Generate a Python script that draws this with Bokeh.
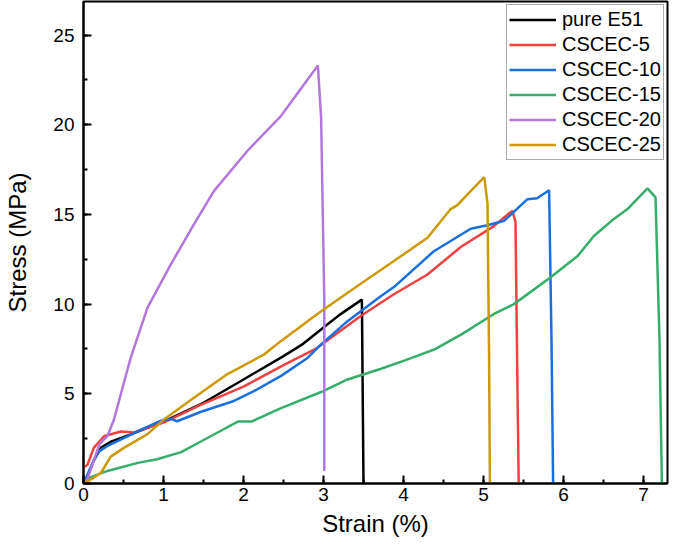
from bokeh.plotting import figure
from bokeh.models import SingleIntervalTicker, Legend, LegendItem
from bokeh.embed import file_html
from bokeh.resources import INLINE

# ---- data ----
e51_x = [0, 0.05, 0.13, 0.22, 0.35, 0.6, 1.0, 1.5, 2.0, 2.5, 2.75, 3.0, 3.2, 3.48, 3.49, 3.5]
e51_y = [0, 0.4, 1.3, 2.0, 2.35, 2.75, 3.45, 4.5, 5.8, 7.1, 7.8, 8.7, 9.4, 10.25, 5.0, 0]

c5_x = [0, 0.05, 0.13, 0.26, 0.47, 0.63, 1.0, 1.45, 2.0, 2.5, 2.9, 3.47, 3.88, 4.3, 4.72, 5.13, 5.36, 5.40, 5.42, 5.44]
c5_y = [0.9, 1.05, 2.0, 2.65, 2.9, 2.85, 3.4, 4.35, 5.4, 6.6, 7.5, 9.35, 10.55, 11.65, 13.2, 14.35, 15.2, 14.6, 7.0, 0]

c10_x = [0, 0.09, 0.18, 0.3, 0.51, 0.72, 0.97, 1.09, 1.17, 1.47, 1.88, 2.13, 2.47, 2.8, 2.97, 3.3, 3.72, 3.88, 4.38, 4.84, 5.05, 5.26, 5.55, 5.67, 5.82, 5.85, 5.87]
c10_y = [0, 0.9, 1.75, 2.1, 2.55, 3.0, 3.5, 3.6, 3.47, 4.0, 4.6, 5.15, 6.0, 7.0, 7.75, 9.05, 10.45, 10.95, 12.95, 14.2, 14.4, 14.65, 15.85, 15.9, 16.35, 8.0, 0]

c15_x = [0, 0.09, 0.3, 0.68, 0.92, 1.22, 1.45, 1.7, 1.93, 2.1, 2.47, 2.97, 3.3, 3.72, 4.01, 4.4, 4.72, 5.13, 5.38, 5.84, 6.18, 6.38, 6.63, 6.8, 7.05, 7.15, 7.2, 7.23]
c15_y = [0, 0.35, 0.7, 1.15, 1.35, 1.75, 2.3, 2.9, 3.45, 3.45, 4.2, 5.1, 5.8, 6.4, 6.85, 7.5, 8.3, 9.45, 10.0, 11.5, 12.7, 13.8, 14.75, 15.3, 16.45, 15.95, 8.0, 0]

c20_x = [0.03, 0.13, 0.2, 0.3, 0.38, 0.51, 0.59, 0.8, 1.09, 1.38, 1.63, 2.05, 2.47, 2.93, 2.97, 3.01, 3.01]
c20_y = [0, 1.3, 2.2, 2.65, 3.55, 5.7, 7.0, 9.8, 12.2, 14.45, 16.3, 18.55, 20.5, 23.3, 20.4, 10.2, 0.7]

c25_x = [0, 0.13, 0.22, 0.34, 0.51, 0.8, 1.0, 1.42, 1.8, 2.26, 2.47, 2.97, 3.42, 3.88, 4.3, 4.59, 4.67, 4.84, 5.01, 5.05, 5.07, 5.08]
c25_y = [0, 0.33, 0.6, 1.5, 2.0, 2.75, 3.55, 4.9, 6.1, 7.2, 7.95, 9.6, 11.0, 12.4, 13.7, 15.3, 15.5, 16.3, 17.08, 15.6, 7.0, 0]

names = ["pure E51", "CSCEC-5", "CSCEC-10", "CSCEC-15", "CSCEC-20", "CSCEC-25"]
colors = ["#000000", "#F14040", "#1A6FDF", "#37AD6B", "#B177DE", "#CC9900"]
xs = [e51_x, c5_x, c10_x, c15_x, c20_x, c25_x]
ys = [e51_y, c5_y, c10_y, c15_y, c20_y, c25_y]

FONT = "Liberation Sans"

p = figure(width=669, height=540, x_range=(0, 7.3), y_range=(0, 26.87),
           output_backend="svg", toolbar_location=None,
           min_border_left=83, min_border_right=2, min_border_top=1, min_border_bottom=57,
           x_axis_label="Strain (%)", y_axis_label="Stress (MPa)")

p.xgrid.visible = False
p.ygrid.visible = False
p.outline_line_color = "black"
p.outline_line_width = 2
p.outline_line_alpha = 1

p.xaxis.ticker = SingleIntervalTicker(interval=1, num_minor_ticks=2)
p.yaxis.ticker = SingleIntervalTicker(interval=5, num_minor_ticks=2)

for ax in (p.xaxis, p.yaxis):
    ax.axis_line_width = 2
    ax.axis_line_color = "black"
    ax.major_tick_line_width = 2
    ax.minor_tick_line_width = 2
    ax.major_tick_in = 8
    ax.major_tick_out = 0
    ax.minor_tick_in = 4
    ax.minor_tick_out = 0
    ax.major_label_text_font = FONT
    ax.major_label_text_font_size = "19px"
    ax.major_label_text_color = "black"
    ax.axis_label_text_font = FONT
    ax.axis_label_text_font_size = "24px"
    ax.axis_label_text_font_style = "normal"
    ax.axis_label_text_color = "black"

p.xaxis.major_label_standoff = 4
p.yaxis.major_label_standoff = 9
p.xaxis.axis_label_standoff = 6
p.yaxis.axis_label_standoff = 19

items = []
for n, c, x, y in zip(names, colors, xs, ys):
    r = p.line(x, y, line_color=c, line_width=2.5)
    items.append(LegendItem(label=n, renderers=[r]))

legend = Legend(items=items, location=(423, 323))
legend.label_text_font = FONT
legend.label_text_font_size = "20px"
legend.label_text_color = "black"
legend.glyph_width = 47
legend.glyph_height = 25
legend.label_height = 25
legend.spacing = 0
legend.padding = 2
legend.margin = 0
legend.label_standoff = 6
legend.border_line_color = "#555555"
legend.border_line_width = 1
legend.background_fill_alpha = 1
p.add_layout(legend)

open("out.html", "w").write(file_html(p, INLINE))
